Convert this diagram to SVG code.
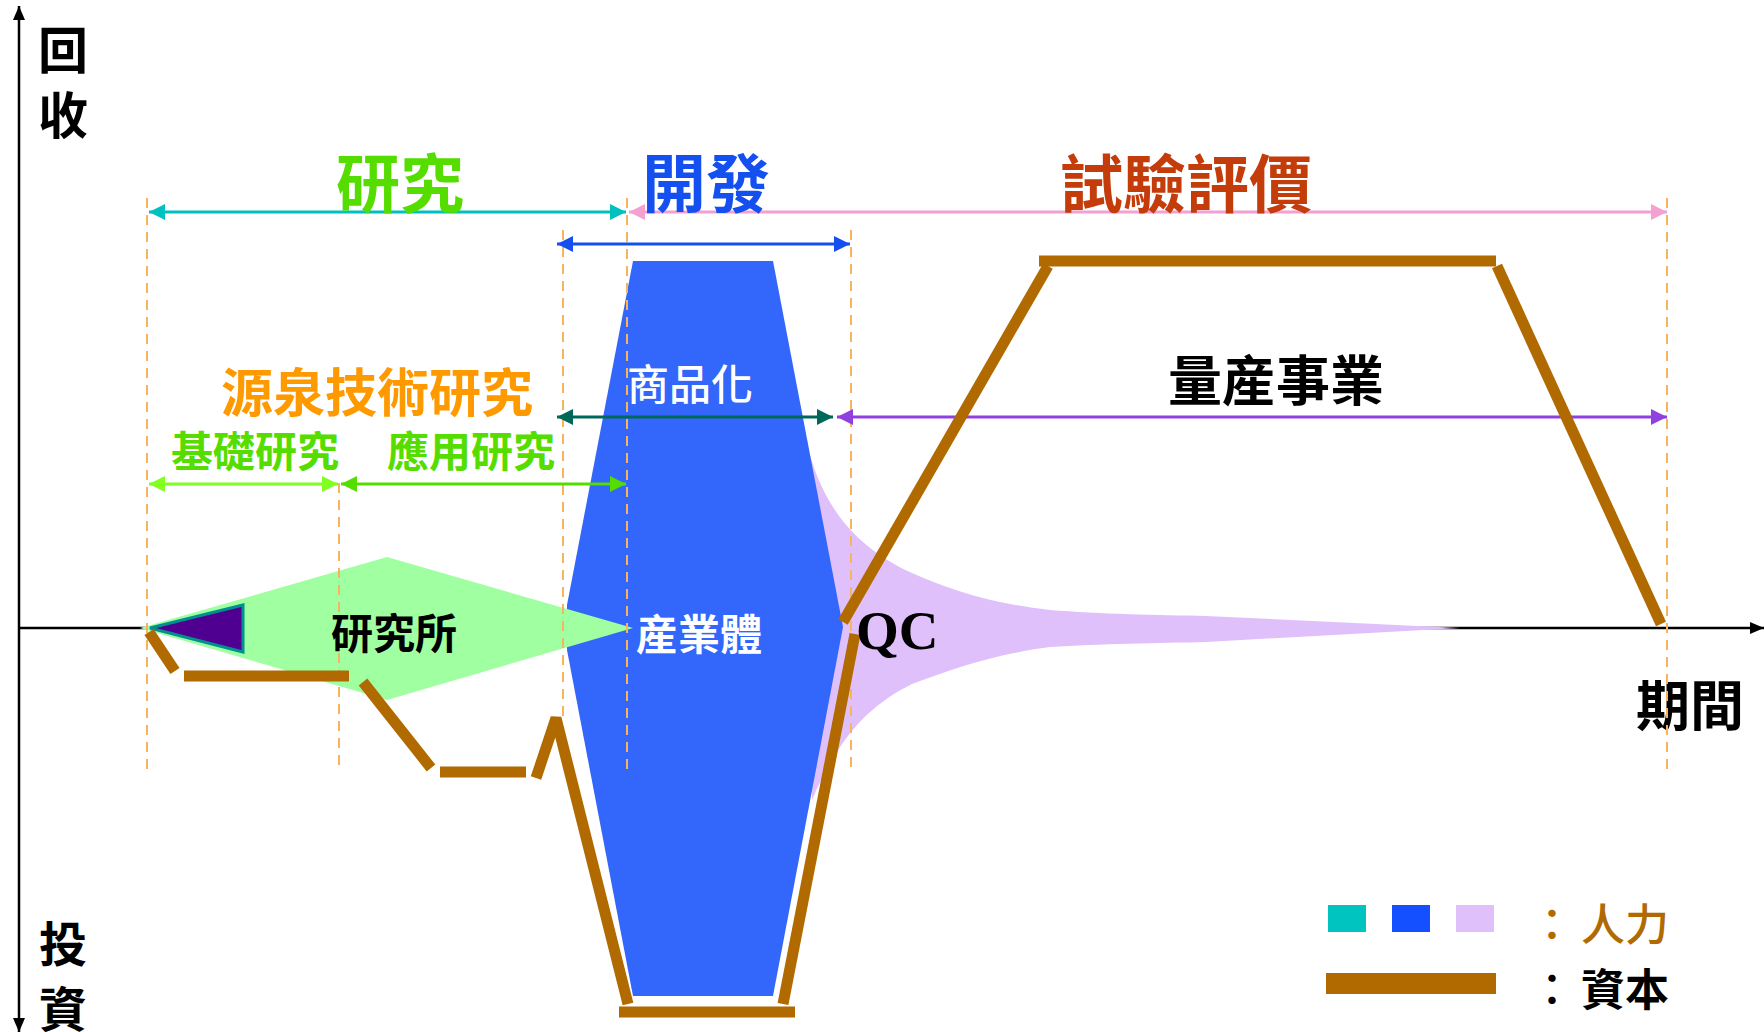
<svg xmlns="http://www.w3.org/2000/svg" width="1764" height="1032" viewBox="0 0 1764 1032">
<style>
.cjk{font-family:"Noto Sans CJK TC","Noto Sans CJK JP",sans-serif;}
.b{font-weight:bold;}
.m{font-weight:500;}
.dash{stroke:#F7B45E;stroke-width:2;stroke-dasharray:10 7;fill:none;}
.cap{stroke:#B06A00;stroke-width:11;stroke-linecap:butt;fill:none;}
.arr{stroke-width:3;fill:none;}
</style>
<defs>
<marker id="mK" viewBox="0 0 14 12" refX="14" refY="6" markerWidth="14" markerHeight="12" markerUnits="userSpaceOnUse" orient="auto-start-reverse"><path d="M0,0 L14,6 L0,12 Z" fill="#000"/></marker>
<marker id="mT" viewBox="0 0 16 16" refX="16" refY="8" markerWidth="16" markerHeight="16" markerUnits="userSpaceOnUse" orient="auto-start-reverse"><path d="M0,0 L16,8 L0,16 Z" fill="#00C0C0"/></marker>
<marker id="mP" viewBox="0 0 16 16" refX="16" refY="8" markerWidth="16" markerHeight="16" markerUnits="userSpaceOnUse" orient="auto-start-reverse"><path d="M0,0 L16,8 L0,16 Z" fill="#F4A0D0"/></marker>
<marker id="mB" viewBox="0 0 16 16" refX="16" refY="8" markerWidth="16" markerHeight="16" markerUnits="userSpaceOnUse" orient="auto-start-reverse"><path d="M0,0 L16,8 L0,16 Z" fill="#1450F0"/></marker>
<marker id="mD" viewBox="0 0 16 16" refX="16" refY="8" markerWidth="16" markerHeight="16" markerUnits="userSpaceOnUse" orient="auto-start-reverse"><path d="M0,0 L16,8 L0,16 Z" fill="#006858"/></marker>
<marker id="mV" viewBox="0 0 16 16" refX="16" refY="8" markerWidth="16" markerHeight="16" markerUnits="userSpaceOnUse" orient="auto-start-reverse"><path d="M0,0 L16,8 L0,16 Z" fill="#9040E0"/></marker>
<marker id="mL" viewBox="0 0 16 16" refX="16" refY="8" markerWidth="16" markerHeight="16" markerUnits="userSpaceOnUse" orient="auto-start-reverse"><path d="M0,0 L16,8 L0,16 Z" fill="#80FF20"/></marker>
<marker id="mG" viewBox="0 0 16 16" refX="16" refY="8" markerWidth="16" markerHeight="16" markerUnits="userSpaceOnUse" orient="auto-start-reverse"><path d="M0,0 L16,8 L0,16 Z" fill="#55DD00"/></marker>
</defs>
<rect x="0" y="0" width="1764" height="1032" fill="#fff"/>

<g id="axes">
<line x1="19" y1="1032" x2="19" y2="6" stroke="#000" stroke-width="2.5" marker-start="url(#mK)" marker-end="url(#mK)"/>
<line x1="19" y1="628" x2="1764" y2="628" stroke="#000" stroke-width="2.5" marker-end="url(#mK)"/>
<text class="cjk b" x="63" y="69" font-size="50" text-anchor="middle">回</text>
<text class="cjk b" x="63" y="134" font-size="50" text-anchor="middle">收</text>
<text class="cjk b" x="63" y="962" font-size="48" text-anchor="middle">投</text>
<text class="cjk b" x="63" y="1027" font-size="48" text-anchor="middle">資</text>
<text class="cjk b" x="1690" y="726" font-size="54" text-anchor="middle">期間</text>
</g>

<g id="qc-zone">
<path d="M806 440 C820 500 850 545 912 573 C950 590 990 603 1050 610 C1100 614 1160 615 1206 616 L1460 628 L1206 642 C1160 643 1100 644 1050 647 C990 655 950 670 912 684 C870 705 840 735 812 800 Z" fill="#E0C0FA"/>
</g>

<g id="industry">
<polygon points="633,261 773,261 843,627 773,996 633,996 567,650 567,605" fill="#3366FA"/>
</g>

<g id="institute">
<polygon points="140,628 387,557 633,628 387,700" fill="#A0FFA0"/>
<polygon points="150,628 243,605 243,652" fill="#500090" stroke="#009090" stroke-width="3" stroke-linejoin="miter"/>
</g>

<g id="guides">
<line class="dash" x1="147" y1="198" x2="147" y2="770"/>
<line class="dash" x1="339" y1="483" x2="339" y2="772"/>
<line class="dash" x1="563" y1="230" x2="563" y2="718"/>
<line class="dash" x1="627" y1="198" x2="627" y2="770"/>
<line class="dash" x1="851" y1="230" x2="851" y2="770"/>
<line class="dash" x1="1667" y1="198" x2="1667" y2="770"/>
</g>

<g id="connectors">
<line class="arr" x1="149" y1="212" x2="626" y2="212" stroke="#00C0C0" marker-start="url(#mT)" marker-end="url(#mT)"/>
<line class="arr" x1="629" y1="212" x2="1667" y2="212" stroke="#F4A0D0" marker-start="url(#mP)" marker-end="url(#mP)"/>
<line class="arr" x1="557" y1="244" x2="850" y2="244" stroke="#1450F0" marker-start="url(#mB)" marker-end="url(#mB)"/>
<line class="arr" x1="557" y1="417" x2="833" y2="417" stroke="#006858" marker-start="url(#mD)" marker-end="url(#mD)"/>
<line class="arr" x1="837" y1="417" x2="1667" y2="417" stroke="#9040E0" marker-start="url(#mV)" marker-end="url(#mV)"/>
<line class="arr" x1="149" y1="484" x2="338" y2="484" stroke="#80FF20" marker-start="url(#mL)" marker-end="url(#mL)"/>
<line class="arr" x1="341" y1="484" x2="626" y2="484" stroke="#55DD00" marker-start="url(#mG)" marker-end="url(#mG)"/>
</g>

<g id="capital">
<line class="cap" x1="149" y1="632" x2="175" y2="671"/>
<line class="cap" x1="184" y1="676" x2="349" y2="676"/>
<line class="cap" x1="363" y1="682" x2="431" y2="768"/>
<line class="cap" x1="440" y1="772" x2="526" y2="772"/>
<polyline class="cap" points="536,778 556,718 628,1004" stroke-linejoin="bevel"/>
<line class="cap" x1="619" y1="1012" x2="795" y2="1012" stroke-width="16"/>
<line class="cap" x1="783" y1="1004" x2="855" y2="634"/>
<line class="cap" x1="843" y1="622" x2="1048" y2="266"/>
<line class="cap" x1="1039" y1="261" x2="1496" y2="261"/>
<line class="cap" x1="1497" y1="266" x2="1661" y2="624"/>
</g>

<g id="labels">
<text class="cjk b" x="400" y="207" font-size="64" fill="#55DD00" text-anchor="middle">研究</text>
<text class="cjk b" x="706" y="207" font-size="64" fill="#1450F0" text-anchor="middle">開發</text>
<text class="cjk b" x="1186" y="207" font-size="63" fill="#C43C0A" text-anchor="middle">試驗評價</text>
<text class="cjk b" x="377" y="412" font-size="52" fill="#FF9900" text-anchor="middle">源泉技術研究</text>
<text class="cjk b" x="255" y="467" font-size="42" fill="#55DD00" text-anchor="middle">基礎研究</text>
<text class="cjk b" x="471" y="467" font-size="42" fill="#55DD00" text-anchor="middle">應用研究</text>
<text class="cjk m" x="690" y="400" font-size="42" fill="#fff" text-anchor="middle">商品化</text>
<text class="cjk b" x="1276" y="401" font-size="54" fill="#000" text-anchor="middle">量産事業</text>
<text class="cjk b" x="394" y="649" font-size="42" fill="#000" text-anchor="middle">研究所</text>
<text class="cjk b" x="699" y="650" font-size="42" fill="#fff" text-anchor="middle">産業體</text>
<text x="856" y="649" font-family="Liberation Serif, serif" font-weight="bold" font-size="55" fill="#000">QC</text>
</g>

<g id="legend">
<rect x="1328" y="905" width="38" height="27" fill="#00C4C0"/>
<rect x="1392" y="905" width="38" height="27" fill="#1450FF"/>
<rect x="1456" y="905" width="38" height="27" fill="#E0C0FA"/>
<rect x="1326" y="973" width="170" height="21" fill="#B06A00"/>
<text class="cjk m" font-size="44" fill="#B06A00"><tspan x="1530" y="941">：</tspan><tspan x="1581" y="941">人力</tspan></text>
<text class="cjk m" font-size="44" fill="#000"><tspan x="1530" y="1006">：</tspan><tspan x="1581" y="1006" font-weight="bold">資本</tspan></text>
</g>
</svg>
